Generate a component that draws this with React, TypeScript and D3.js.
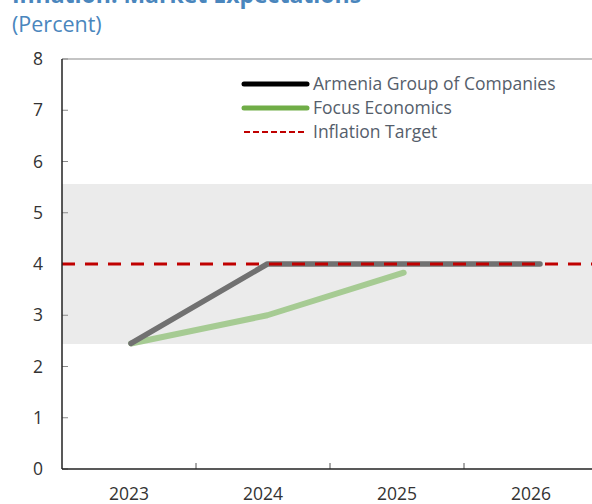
import React from "react";
import * as d3 from "d3";

const years = ["2023", "2024", "2025", "2026"];
const armeniaGroup = [2.45, 4.0, 4.0, 4.0];
const focusEconomics = [2.45, 3.0, 3.83, null];
const inflationTarget = 4;
const bandRange = [2.44, 5.56];
const yTicks = [0, 1, 2, 3, 4, 5, 6, 7, 8];
const legendLabels = ["Armenia Group of Companies", "Focus Economics", "Inflation Target"];

const W = 592;
const H = 504;
const plotLeft = 62;
const plotRight = 598;
const plotTop = 59;
const plotBottom = 469;
const font = "'Segoe UI', 'Open Sans', 'Noto Sans', sans-serif";

export default function App() {
  const x = d3.scaleBand<string>().domain(years).range([plotLeft, plotRight]);
  const xLine = d3.scalePoint<string>().domain(years).range([131, 540]);
  const y = d3.scaleLinear().domain([0, 8]).range([plotBottom, plotTop]);

  const lineGen = d3
    .line<[string, number | null]>()
    .defined((d) => d[1] !== null)
    .x((d) => xLine(d[0]) as number)
    .y((d) => y(d[1] as number));

  const agPath = lineGen(years.map((yr, i) => [yr, armeniaGroup[i]]));
  const fePath = lineGen(years.map((yr, i) => [yr, focusEconomics[i]]));

  const boundaries = years.slice(1).map((yr) => x(yr) as number);

  const legendX1 = 244;
  const legendX2 = 307;
  const legendYs = [84, 108, 132];

  return (
    <svg
      width={W}
      height={H}
      style={{ position: "absolute", left: 0, top: 0, display: "block", background: "#fff" }}
    >
      {/* Title (partially clipped, as in the source image) */}
      <text x={12} y={3} fontFamily={font} fontWeight={700} fontSize={23} fill="#4a86bd">
        Inflation: Market Expectations
      </text>
      <text x={12} y={32} fontFamily={font} fontSize={21.5} fill="#4a86bd">
        (Percent)
      </text>

      {/* band */}
      <rect
        x={plotLeft}
        y={y(bandRange[1])}
        width={plotRight - plotLeft}
        height={y(bandRange[0]) - y(bandRange[1])}
        fill="#ebebeb"
      />

      {/* top frame */}
      <line x1={plotLeft} x2={plotRight} y1={plotTop} y2={plotTop} stroke="#8a8a8a" strokeWidth={1.2} />

      {/* y ticks */}
      {yTicks.map((t) => (
        <g key={t}>
          <line x1={plotLeft} x2={plotLeft + 6} y1={y(t)} y2={y(t)} stroke="#8a8a8a" strokeWidth={1} />
          <text
            x={43}
            y={y(t)}
            dy="0.35em"
            textAnchor="end"
            fontFamily={font}
            fontSize={17.5}
            fill="#333"
          >
            {t}
          </text>
        </g>
      ))}

      {/* x ticks */}
      {boundaries.map((bx, i) => (
        <line key={i} x1={bx} x2={bx} y1={plotBottom} y2={plotBottom - 6} stroke="#555" strokeWidth={1} />
      ))}
      {years.map((yr) => (
        <text
          key={yr}
          x={(x(yr) as number) + x.bandwidth() / 2}
          y={494}
          dy="0.35em"
          textAnchor="middle"
          fontFamily={font}
          fontSize={17.5}
          fill="#333"
        >
          {yr}
        </text>
      ))}

      {/* series */}
      <path d={fePath || ""} fill="none" stroke="#a6cb93" strokeWidth={6} strokeLinecap="round" strokeLinejoin="round" />
      <path d={agPath || ""} fill="none" stroke="#717171" strokeWidth={5.5} strokeLinecap="round" strokeLinejoin="round" />

      {/* inflation target */}
      <line
        x1={plotLeft}
        x2={plotRight}
        y1={y(inflationTarget)}
        y2={y(inflationTarget)}
        stroke="#c00000"
        strokeWidth={3}
        strokeDasharray="13 10"
      />

      {/* axes */}
      <line x1={plotLeft} x2={plotLeft} y1={plotTop} y2={plotBottom} stroke="#222" strokeWidth={1.5} />
      <line x1={plotLeft} x2={plotRight} y1={plotBottom} y2={plotBottom} stroke="#222" strokeWidth={1.5} />

      {/* legend */}
      <line x1={legendX1} x2={legendX2} y1={legendYs[0]} y2={legendYs[0]} stroke="#000" strokeWidth={5} strokeLinecap="round" />
      <line x1={legendX1} x2={legendX2} y1={legendYs[1]} y2={legendYs[1]} stroke="#70ad47" strokeWidth={5} strokeLinecap="round" />
      <line x1={legendX1} x2={legendX2} y1={legendYs[2]} y2={legendYs[2]} stroke="#c00000" strokeWidth={2} strokeDasharray="6 3" />
      {legendLabels.map((lab, i) => (
        <text
          key={lab}
          x={313}
          y={legendYs[i]}
          dy="0.35em"
          fontFamily={font}
          fontSize={17.5}
          fill="#555e6b"
        >
          {lab}
        </text>
      ))}
    </svg>
  );
}
